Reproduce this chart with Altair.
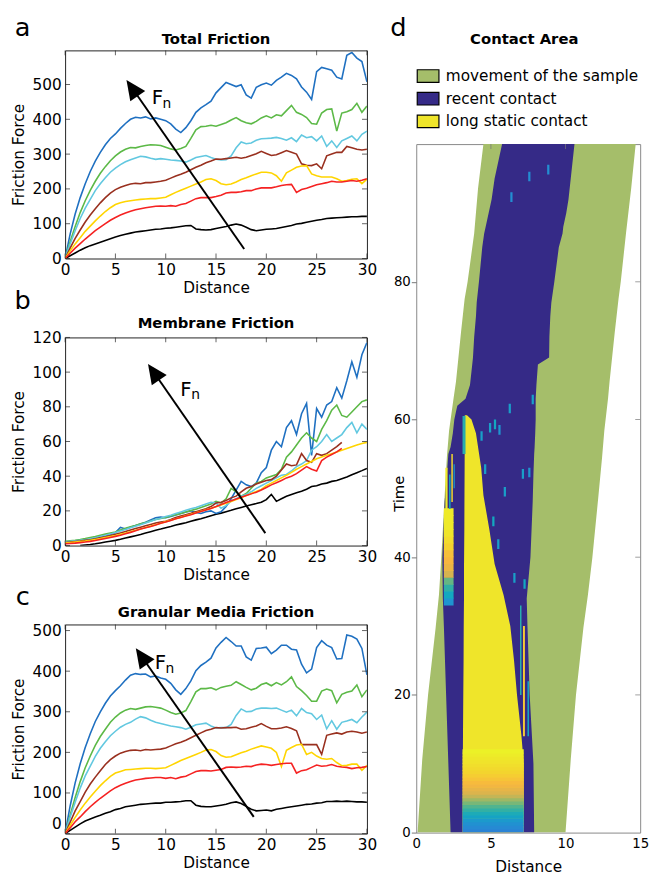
import math
import altair as alt
import pandas as pd

FONT = "DejaVu Sans"

# ---------------- data: friction curves ----------------
DIST = [0.0, 0.5, 1.0, 1.5, 2.0, 2.5, 3.0, 3.5, 4.0, 4.5,
        5.0, 5.5, 6.0, 6.5, 7.0, 7.5, 8.0, 8.5, 9.0, 9.5,
        10.0, 10.5, 11.0, 11.5, 12.0, 12.5, 13.0, 13.5, 14.0, 14.5,
        15.0, 15.5, 16.0, 16.5, 17.0, 17.5, 18.0, 18.5, 19.0, 19.5,
        20.0, 20.5, 21.0, 21.5, 22.0, 22.5, 23.0, 23.5, 24.0, 24.5,
        25.0, 25.5, 26.0, 26.5, 27.0, 27.5, 28.0, 28.5, 29.0, 29.5,
        30.0]

ORDER = ["black", "blue", "green", "cyan", "brown", "yellow", "red"]
COLORS = ["#000000", "#1f70c1", "#5cb947", "#62c8e0", "#99301f", "#ffd500", "#f52222"]

A_BLUE = [0, 70, 128, 175, 215, 250, 280, 305, 327, 345,
          358, 374, 388, 400, 406, 404, 407, 401, 404, 400,
          396, 387, 372, 362, 376, 396, 420, 433, 442, 452,
          476, 491, 506, 500, 494, 499, 470, 461, 492, 499,
          504, 498, 512, 521, 532, 526, 516, 493, 478, 457,
          537, 549, 545, 541, 521, 516, 584, 592, 576, 566,
          508]
A_GREEN = [0, 48, 92, 132, 166, 196, 222, 245, 264, 281,
           295, 306, 314, 319, 318, 322, 325, 327, 326, 325,
           320, 315, 312, 316, 322, 345, 370, 379, 380, 383,
           380, 385, 390, 398, 405, 396, 390, 387, 394, 404,
           410, 404, 413, 410, 425, 440, 420, 414, 405, 388,
           386, 418, 428, 430, 366, 418, 422, 428, 446, 420,
           438]
A_CYAN = [0, 42, 80, 115, 145, 170, 195, 215, 232, 248,
          260, 270, 278, 284, 289, 294, 292, 288, 285, 287,
          285, 283, 282, 280, 277, 283, 290, 293, 296, 290,
          285, 283, 284, 295, 318, 335, 330, 332, 340, 344,
          345, 346, 348, 345, 340, 347, 336, 355, 347, 350,
          338, 352, 322, 338, 319, 338, 345, 352, 338, 357,
          366]
A_BROWN = [0, 30, 58, 82, 105, 125, 143, 160, 175, 188,
           198, 205, 210, 214, 216, 215, 218, 218, 220, 222,
           225, 231, 237, 242, 248, 255, 262, 268, 275, 280,
           286, 285, 287, 289, 291, 288, 291, 296, 301, 308,
           302, 296, 298, 304, 310, 305, 300, 272, 268, 267,
           272, 258, 295, 300, 305, 305, 322, 318, 314, 312,
           314]
A_YELLOW = [0, 22, 42, 60, 78, 93, 108, 122, 135, 146,
            155, 160, 164, 166, 168, 170, 171, 172, 172, 174,
            176, 183, 190, 196, 202, 208, 214, 220, 227, 229,
            224, 215, 212, 214, 220, 227, 232, 238, 243, 248,
            248, 246, 238, 222, 246, 254, 262, 266, 267, 243,
            238, 234, 234, 234, 229, 222, 224, 228, 229, 215,
            228]
A_RED = [0, 15, 30, 43, 56, 68, 80, 90, 100, 110,
         118, 125, 131, 136, 140, 143, 146, 148, 150, 151,
         150, 152, 150, 155, 158, 165, 172, 175, 175, 175,
         178, 182, 188, 190, 190, 192, 195, 195, 200, 203,
         203, 203, 206, 210, 212, 213, 190, 198, 202, 207,
         212, 215, 218, 222, 220, 220, 222, 224, 222, 225,
         229]
A_BLACK = [0, 8, 16, 24, 31, 37, 42, 47, 52, 57,
           62, 66, 70, 73, 76, 78, 80, 82, 84, 85,
           87, 88, 90, 92, 94, 95, 85, 83, 82, 83,
           86, 89, 92, 96, 99, 96, 90, 83, 80, 82,
           84, 85, 86, 89, 92, 95, 99, 101, 104, 107,
           110, 112, 115, 116, 117, 118, 119, 120, 120, 121,
           121]

B_BLUE = [2.0, 2.2, 2.5, 2.9, 3.3, 3.8, 4.4, 5.0, 5.7, 6.4,
          7.5, 10.5, 9.5, 10.5, 11.5, 12.5, 13.5, 14.8, 16.0, 16.5,
          16.0, 16.8, 17.6, 18.5, 19.4, 20.0, 19.0, 18.5, 19.5, 20.0,
          18.5, 19.5, 22.5, 27.0, 32.0, 37.0, 35.0, 34.0, 36.0, 42.0,
          45.0, 55.0, 60.0, 57.0, 68.0, 72.0, 64.0, 76.0, 82.0, 52.0,
          79.0, 74.0, 81.0, 83.0, 91.0, 85.0, 95.0, 106.0, 97.0, 110.0,
          117.0]
B_GREEN = [2.5, 2.8, 3.1, 3.5, 4.0, 4.6, 5.2, 5.9, 6.6, 7.2,
           7.8, 9.0, 10.0, 10.8, 11.6, 12.5, 13.3, 14.2, 15.0, 15.6,
           16.2, 17.0, 17.8, 18.5, 19.3, 20.2, 21.0, 22.0, 23.0, 24.0,
           25.5, 24.5, 27.0, 33.0, 31.0, 28.5, 30.0, 33.0, 36.0, 37.0,
           39.0, 40.0, 41.0, 44.0, 51.0, 54.0, 58.0, 62.0, 65.0, 62.0,
           60.0, 67.0, 72.0, 78.0, 81.0, 75.0, 74.0, 77.0, 80.0, 83.0,
           84.0]
B_CYAN = [2.2, 2.4, 2.7, 3.0, 3.4, 3.9, 4.5, 5.2, 5.9, 6.7,
          7.5, 8.4, 9.3, 10.2, 11.1, 12.0, 13.0, 14.0, 15.0, 15.8,
          16.7, 17.5, 18.5, 19.4, 20.3, 21.2, 22.0, 23.0, 24.0, 25.0,
          24.5, 21.5, 23.0, 25.6, 27.0, 28.4, 29.5, 31.0, 33.0, 34.5,
          36.0, 37.5, 39.0, 40.5, 41.0, 43.0, 45.5, 47.0, 49.0, 55.0,
          57.0, 60.0, 64.0, 60.0, 62.0, 64.0, 68.0, 71.0, 65.0, 70.0,
          67.0]
B_BROWN = [1.8, 2.0, 2.3, 2.6, 3.0, 3.4, 3.9, 4.5, 5.1, 5.8,
           6.5, 7.3, 8.1, 9.0, 9.8, 10.6, 11.4, 12.2, 13.0, 13.5,
           14.0, 15.0, 16.2, 17.0, 17.8, 18.6, 19.5, 20.4, 21.2, 22.5,
           24.5, 25.0, 26.0, 27.5, 28.5, 31.0, 33.0, 34.0, 35.5, 36.5,
           37.5, 38.0, 40.0, 43.5, 47.0, 46.0, 46.5, 53.0, 49.0, 48.0,
           53.0, 52.0, 53.0, 55.0, 57.0, 59.5, None, None, None, None,
           None]
B_YELLOW = [1.5, 1.7, 2.0, 2.3, 2.6, 3.0, 3.5, 4.0, 4.6, 5.2,
            5.8, 6.5, 7.2, 8.0, 8.8, 9.6, 10.4, 11.2, 12.0, 12.9,
            13.8, 14.6, 15.5, 16.3, 17.2, 18.0, 18.9, 19.8, 20.6, 21.5,
            22.4, 23.4, 24.4, 25.4, 26.5, 27.6, 28.8, 30.0, 31.2, 32.4,
            34.5, 36.0, 37.5, 39.0, 40.5, 42.2, 44.0, 45.5, 47.0, 48.5,
            50.0, 51.0, 52.0, 53.0, 54.0, 55.0, 56.0, 57.0, 58.0, 58.8,
            59.5]
B_RED = [1.0, 1.2, 1.4, 1.7, 2.0, 2.4, 2.9, 3.5, 4.1, 4.7,
         5.3, 6.0, 6.8, 7.6, 8.5, 9.5, 10.3, 11.0, 11.8, 12.8,
         13.6, 14.4, 15.4, 16.2, 17.0, 17.8, 18.8, 19.6, 20.5, 21.4,
         22.5, 23.7, 24.8, 25.8, 26.8, 27.8, 28.8, 29.8, 30.8, 32.0,
         33.5, 35.0, 36.2, 37.5, 39.0, 40.0, 41.5, 43.5, 45.5, 44.0,
         43.0, 49.0, 51.0, 52.5, 54.0, 56.0, None, None, None, None,
         None]
B_BLACK = [None, None, None, 0.0, 0.3, 0.6, 1.0, 1.5, 2.0, 2.5,
           3.0, 3.6, 4.3, 5.0, 5.7, 6.4, 7.2, 8.0, 8.8, 9.5,
           10.3, 11.0, 11.8, 12.5, 13.2, 14.0, 14.8, 15.5, 16.3, 17.2,
           18.0, 18.7, 19.5, 20.3, 21.2, 22.0, 22.8, 23.5, 24.2, 25.0,
           26.5, 29.5, 25.5, 27.0, 28.4, 29.5, 30.5, 31.3, 32.5, 34.0,
           34.5, 35.5, 36.0, 37.0, 37.5, 38.5, 39.5, 40.8, 42.0, 43.2,
           44.5]

C_BLUE = [0, 68, 125, 172, 212, 246, 276, 300, 321, 339,
          352, 364, 378, 390, 394, 392, 393, 386, 388, 383,
          380, 370, 354, 343, 357, 376, 401, 414, 422, 432,
          457, 471, 483, 473, 462, 462, 435, 427, 456, 457,
          459, 443, 452, 464, 464, 454, 452, 417, 396, 405,
          458, 475, 464, 458, 430, 431, 489, 486, 479, 456,
          391]
C_GREEN = [0, 45, 89, 128, 162, 191, 217, 239, 257, 274,
           287, 297, 304, 308, 306, 309, 312, 313, 311, 309,
           304, 298, 294, 297, 303, 325, 349, 357, 357, 359,
           354, 360, 363, 365, 374, 367, 360, 354, 358, 367,
           371, 364, 372, 366, 374, 386, 362, 352, 340, 326,
           326, 351, 356, 352, 322, 343, 348, 351, 366, 337,
           354]
C_CYAN = [0, 40, 77, 112, 142, 166, 190, 210, 226, 241,
          252, 262, 269, 274, 282, 288, 285, 279, 274, 271,
          268, 265, 263, 261, 257, 262, 268, 270, 272, 265,
          260, 261, 261, 269, 291, 307, 300, 301, 307, 309,
          309, 308, 309, 304, 299, 304, 290, 308, 298, 295,
          281, 292, 258, 278, 257, 274, 277, 281, 273, 287,
          299]
C_BROWN = [0, 28, 56, 79, 102, 122, 139, 155, 170, 182,
           191, 198, 202, 205, 206, 204, 207, 206, 207, 208,
           211, 216, 221, 225, 230, 236, 242, 248, 254, 257,
           261, 260, 261, 261, 262, 257, 258, 262, 265, 271,
           264, 258, 258, 260, 263, 259, 253, 219, 219, 219,
           219, 195, 242, 245, 248, 245, 250, 252, 250, 247,
           250]
C_YELLOW = [0, 20, 40, 58, 75, 90, 104, 118, 130, 141,
            149, 153, 157, 158, 159, 160, 161, 161, 160, 161,
            162, 168, 174, 180, 185, 190, 195, 200, 206, 207,
            202, 192, 188, 189, 194, 199, 203, 208, 212, 216,
            213, 210, 200, 165, 205, 212, 218, 220, 195, 200,
            191, 185, 183, 185, 175, 167, 168, 171, 171, 156,
            168]
C_RED = [0, 14, 29, 41, 54, 66, 77, 87, 96, 105,
         113, 119, 124, 128, 132, 134, 136, 137, 138, 138,
         136, 138, 135, 139, 141, 147, 153, 155, 155, 154,
         156, 158, 163, 164, 163, 164, 166, 165, 169, 171,
         170, 168, 170, 172, 173, 173, 149, 155, 157, 163,
         169, 166, 167, 170, 166, 164, 163, 160, 162, 163,
         165]
C_BLACK = [0, 8, 16, 24, 31, 36, 41, 45, 50, 54,
           59, 62, 66, 68, 70, 72, 73, 74, 75, 75,
           77, 77, 78, 79, 81, 81, 70, 67, 66, 66,
           68, 70, 72, 76, 78, 74, 67, 60, 56, 57,
           58, 56, 60, 62, 64, 66, 68, 70, 72, 73,
           75, 76, 79, 79, 80, 79, 80, 79, 78, 78,
           77]

NAMES = ["blue", "green", "cyan", "brown", "yellow", "red", "black"]
A_SERIES = dict(zip(NAMES, [A_BLUE, A_GREEN, A_CYAN, A_BROWN, A_YELLOW, A_RED, A_BLACK]))
B_SERIES = dict(zip(NAMES, [B_BLUE, B_GREEN, B_CYAN, B_BROWN, B_YELLOW, B_RED, B_BLACK]))
C_SERIES = dict(zip(NAMES, [C_BLUE, C_GREEN, C_CYAN, C_BROWN, C_YELLOW, C_RED, C_BLACK]))

X_TICKS = [0, 5, 10, 15, 20, 25, 30]
A_YTICKS = [0, 100, 200, 300, 400, 500]
B_YTICKS = [0, 20, 40, 60, 80, 100, 120]
C_YTICKS = [0, 100, 200, 300, 400, 500]

# arrow annotation (data coordinates): tail, tip, F_n label position
A_ARROW = [(17.8, 27.5), (6.1, 513.0), (8.6, 445.0)]
B_ARROW = [(19.9, 7.2), (8.24, 104.7), (11.45, 86.5)]
C_ARROW = [(18.75, 41.3), (7.03, 456.6), (8.9, 406.0)]

# ---------------- data: contact area ----------------
CATS = ["movement of the sample", "recent contact", "long static contact"]
CAT_COLORS = ["#a5be6a", "#352a87", "#efe52a"]

GREEN_T = [0, 10.6, 20, 29.8, 34.5, 40, 48.8, 54.5, 58.4, 63.1, 65.5, 72.7, 77.5, 80, 87, 93.6, 100]
GREEN_L = [0.09, 0.4, 0.79, 1.3, 1.52, 1.68, 1.9, 2.05, 2.2, 2.5, 2.66, 3.0, 3.24, 3.44, 3.88, 4.14, 4.5]
GREEN_R = [10.0, 10.35, 10.7, 11.2, 11.5, 11.8, 12.2, 12.45, 12.6, 12.85, 12.95, 13.3, 13.55, 13.7, 14.05, 14.4, 14.7]

BLUE_T = [0, 10, 20, 30, 34, 40, 48, 52, 55, 56, 58, 60, 61, 62, 63, 65, 68, 69, 72, 75,
          77, 80, 85, 87, 88, 90, 92, 95, 100]
BLUE_L = [2.3, 2.15, 2.0, 1.85, 1.78, 1.75, 1.9, 2.05, 2.15, 2.3, 2.45, 2.55, 2.65, 2.75, 3.3, 3.6,
          3.75, 3.8, 3.88, 4.0, 4.05, 4.2, 4.42, 4.55, 4.65, 4.85, 5.05, 5.25, 5.75]
BLUE_R = [7.9, 7.85, 7.6, 7.45, 7.4, 7.65, 7.8, 7.85, 7.9, 7.93, 7.97, 8.0, 8.0, 8.0, 8.0, 8.05,
          8.15, 8.9, 8.92, 8.98, 9.05, 9.25, 9.55, 9.8, 9.85, 10.05, 10.2, 10.35, 10.6]

YEL_T = [0, 10, 14, 20, 25, 30, 34.5, 39, 44, 49, 53, 58, 60, 60.6]
YEL_L = [3.1, 3.12, 3.13, 3.15, 3.17, 3.18, 3.2, 3.2, 3.22, 3.23, 3.24, 3.25, 3.25, 3.25]
YEL_R = [7.2, 7.2, 7.05, 6.75, 6.55, 6.3, 5.85, 5.25, 4.9, 4.5, 4.35, 4.0, 3.7, 3.4]

# contact-age patches: left, right, t_start, t_end, age
PATCH_L = [3.1] * 24 + [1.85] * 14 + [1.95, 2.2, 2.35, 2.5, 3.1, 6.95, 7.15, 7.45]
PATCH_R = [7.2] * 24 + [2.5] * 14 + [2.1, 2.3, 2.45, 2.58, 3.3, 7.05, 7.28, 7.55]
PATCH_T0 = [0.0, 0.5, 1.0, 1.5, 2.0, 2.5, 3.0, 3.5, 4.0, 4.5, 5.0, 5.5,
            6.0, 6.5, 7.0, 7.5, 8.0, 8.5, 9.0, 9.5, 10.0, 10.5, 11.0, 11.5,
            33, 34, 35, 36, 37, 38, 39, 40, 41, 42, 43, 44, 45, 46,
            46, 47, 48, 50, 55, 20, 14, 14]
PATCH_T1 = [0.6, 1.1, 1.6, 2.1, 2.6, 3.1, 3.6, 4.1, 4.6, 5.1, 5.6, 6.1,
            6.6, 7.1, 7.6, 8.1, 8.6, 9.1, 9.6, 10.1, 10.6, 11.1, 11.6, 12.1,
            34.1, 35.1, 36.1, 37.1, 38.1, 39.1, 40.1, 41.1, 42.1, 43.1, 44.1, 45.1, 46.1, 47.1,
            53, 52, 55, 53.5, 60.5, 33, 30, 22]
PATCH_AGE = [0.25, 0.75, 1.25, 1.75, 2.25, 2.75, 3.25, 3.75, 4.25, 4.75, 5.25, 5.75,
             6.25, 6.75, 7.25, 7.75, 8.25, 8.75, 9.25, 9.75, 10.25, 10.75, 11.25, 11.75,
             1.5, 2.5, 3.2, 4.0, 5.5, 6.5, 7.0, 7.5, 8.5, 9.5, 10.5, 11, 11, 11,
             11, 2.5, 9, 2, 3, 3, 8, 2.5]

BITS_X = [4.87, 5.2, 4.3, 5.5, 4.54, 5.09, 5.86, 7.07, 7.5, 7.73, 7.18, 6.19, 6.5, 5.42, 6.3, 7.5, 8.77]
BITS_T = [58.1, 58.6, 56.9, 57.8, 52.1, 44.5, 48.8, 51.4, 51.6, 62.2, 35.4, 60.9, 36.3, 41.2, 91.6, 94.6, 95.6]
BITS_AGE = [2, 2.5, 2, 1.5, 2, 2.5, 2, 2, 1.5, 2, 2.5, 2, 2, 2, 1, 1, 1]

PARULA_AGE = [0, 1.5, 2.5, 3.5, 4.5, 5.5, 7, 8.5, 10.5]
PARULA_COL = ["#2c7fd6", "#1f95d0", "#13a8c0", "#3cb29a", "#8bb96c", "#d7b34f", "#f7b63f", "#f4d22f", "#efe52a"]

# ---------------- layout constants ----------------
W = 306
HEIGHTS = [211, 211, 212]
D_W, D_H = 227, 698
D_DROP = 95          # contact-area plot starts this much lower than panel a
TICK = "#222222"


def text_layer(txt, x, y, size, weight="normal", align="center"):
    return alt.Chart(pd.DataFrame({"t": [txt]})).mark_text(
        align=align, baseline="alphabetic", fontSize=size, font=FONT, fontWeight=weight,
        color="black").encode(x=alt.value(x), y=alt.value(y), text="t:N")


def friction_panel(title, title_y, series, ymax, yticks, arrow, height, letter, letter_y, zero_shift=0):
    rows = []
    for name in ORDER:
        for x, v in zip(DIST, series[name]):
            if v is not None:
                rows.append({"d": x, "f": v, "s": name})
    df = pd.DataFrame(rows)
    xsc = alt.Scale(domain=[0, 30], nice=False, zero=False)
    ysc = alt.Scale(domain=[0, ymax], nice=False, zero=False)
    ylab_off = {"condition": {"test": "datum.value === 0", "value": zero_shift}, "value": 0}
    xax = alt.Axis(values=X_TICKS, title="Distance", ticks=False, domain=False, grid=False,
                   labelPadding=4, titlePadding=3, labelFontSize=15.5, titleFontSize=15.5,
                   labelFlush=False)
    yax = alt.Axis(values=yticks, title="Friction Force", ticks=False, domain=False, grid=False,
                   labelPadding=4, labelFontSize=15.5, titleFontSize=15.5,
                   titleX=-47, titleY=height / 2.0, titleAngle=270, titleBaseline="middle",
                   titleAlign="center", labelFlush=False, labelOffset=ylab_off)
    X = lambda f: alt.X(f, scale=xsc, axis=xax)
    Y = lambda f: alt.Y(f, scale=ysc, axis=yax)
    lines = alt.Chart(df).mark_line(strokeWidth=1.6, clip=True).encode(
        x=X("d:Q"), y=Y("f:Q"),
        color=alt.Color("s:N", scale=alt.Scale(domain=ORDER, range=COLORS), legend=None),
    )
    # inward ticks on all four sides
    xt = pd.DataFrame({"d": X_TICKS})
    yt = pd.DataFrame({"f": yticks})
    tb = alt.Chart(xt).mark_tick(orient="vertical", size=5, thickness=1, color=TICK).encode(
        x=X("d:Q"), y=alt.value(height - 2.5))
    tt = alt.Chart(xt).mark_tick(orient="vertical", size=5, thickness=1, color=TICK).encode(
        x=X("d:Q"), y=alt.value(2.5))
    tl = alt.Chart(yt).mark_tick(orient="horizontal", size=5, thickness=1, color=TICK).encode(
        y=Y("f:Q"), x=alt.value(2.5))
    tr = alt.Chart(yt).mark_tick(orient="horizontal", size=5, thickness=1, color=TICK).encode(
        y=Y("f:Q"), x=alt.value(W - 2.5))

    tail, tip, flab = arrow
    sx, sy = W / 30.0, height / float(ymax)
    dxp = (tip[0] - tail[0]) * sx
    dyp = (tip[1] - tail[1]) * sy
    length = math.hypot(dxp, dyp)
    frac = 14.0 / length
    base = (tip[0] + frac * (tail[0] - tip[0]), tip[1] + frac * (tail[1] - tip[1]))
    angle = math.degrees(math.atan2(dxp, dyp)) % 360
    arrow_df = pd.DataFrame({"d": [tail[0], base[0]], "f": [tail[1], base[1]]})
    shaft = alt.Chart(arrow_df).mark_line(color="black", strokeWidth=2, strokeCap="butt").encode(
        x=X("d:Q"), y=Y("f:Q"))
    head = alt.Chart(pd.DataFrame({"d": [tip[0]], "f": [tip[1]]})).mark_point(
        shape="M0,0L0.46,1L-0.46,1Z", filled=True, size=1600, angle=angle,
        color="black", opacity=1, strokeWidth=0).encode(x=X("d:Q"), y=Y("f:Q"))
    fdf = pd.DataFrame({"d": [flab[0]], "f": [flab[1]], "t": ["F"], "u": ["n"]})
    ftxt = alt.Chart(fdf).mark_text(align="left", baseline="alphabetic", fontSize=20,
                                    font=FONT, color="black").encode(
        x=X("d:Q"), y=Y("f:Q"), text="t:N")
    ntxt = alt.Chart(fdf).mark_text(align="left", baseline="alphabetic", fontSize=14,
                                    font=FONT, color="black", dx=11, dy=4).encode(
        x=X("d:Q"), y=Y("f:Q"), text="u:N")
    let = text_layer(letter, -43, letter_y, 26)
    ttl = text_layer(title, W / 2.0, title_y, 15, weight="bold")
    return alt.layer(lines, tb, tt, tl, tr, shaft, head, ftxt, ntxt, let, ttl).properties(
        width=W, height=height)


pa = friction_panel("Total Friction", -6, A_SERIES, 598, A_YTICKS, A_ARROW, HEIGHTS[0], "a", -15)
pb = friction_panel("Membrane Friction", -10, B_SERIES, 120, B_YTICKS, B_ARROW, HEIGHTS[1], "b", -29)
pc = friction_panel("Granular Media Friction", -8, C_SERIES, 515, C_YTICKS, C_ARROW, HEIGHTS[2], "c", -20,
                    zero_shift=-10)

# ---------------- contact area panel ----------------
dxs = alt.Scale(domain=[0, 15], nice=False, zero=False)
dys = alt.Scale(domain=[0, 100], nice=False, zero=False)
d_xax = alt.Axis(values=[0, 5, 10, 15], title="Distance", grid=False, domain=False, ticks=False,
                 labelPadding=4, labelFontSize=13.5, titleFontSize=15.5, titlePadding=10,
                 labelFlush=False)
d_yax = alt.Axis(values=[0, 20, 40, 60, 80], title="Time", grid=False, domain=False, ticks=True,
                 tickSize=5, tickColor="#777", labelPadding=1, labelFontSize=13.5, titleFontSize=15,
                 titleX=-18, titleY=354, titleAngle=270, titleBaseline="middle", titleAlign="center",
                 labelFlush=False)
DX = lambda f: alt.X(f, scale=dxs, axis=d_xax)
DY = lambda f: alt.Y(f, scale=dys, axis=d_yax)

band_rows = []
for T, L, R, cat in [(GREEN_T, GREEN_L, GREEN_R, CATS[0]),
                     (BLUE_T, BLUE_L, BLUE_R, CATS[1]),
                     (YEL_T, YEL_L, YEL_R, CATS[2])]:
    for t, l, r in zip(T, L, R):
        band_rows.append({"t": t, "l": l, "r": r, "cat": cat})
band_df = pd.DataFrame(band_rows)

# the legend is hoisted to the right column, whose origin is level with panel a's plot top
legend = alt.Legend(title=None, orient="none", legendX=0, legendY=D_DROP - 81, direction="vertical",
                    symbolType="M-1,-0.58H1V0.58H-1Z", symbolSize=484, symbolStrokeColor="black",
                    symbolStrokeWidth=1.2, symbolOpacity=1, labelFontSize=15.5, labelFont=FONT,
                    labelColor="black", labelOffset=6, rowPadding=2, padding=0, labelLimit=400)

bands = alt.Chart(band_df).mark_area(orient="horizontal", clip=True, opacity=1).encode(
    y=DY("t:Q"), x=DX("l:Q"), x2="r:Q",
    color=alt.Color("cat:N", scale=alt.Scale(domain=CATS, range=CAT_COLORS), legend=legend),
)

patch_df = pd.DataFrame({"l": PATCH_L + BITS_X,
                         "r": PATCH_R + [x + 0.15 for x in BITS_X],
                         "t": PATCH_T0 + BITS_T,
                         "t1": PATCH_T1 + [t + 1.4 for t in BITS_T],
                         "age": PATCH_AGE + BITS_AGE})
patches = alt.Chart(patch_df).mark_rect(clip=True, strokeWidth=0).encode(
    x=DX("l:Q"), x2="r:Q", y=DY("t:Q"), y2="t1:Q",
    fill=alt.Fill("age:Q", scale=alt.Scale(domain=PARULA_AGE, range=PARULA_COL, interpolate="rgb"),
                  legend=None),
)
dtop = alt.Chart(pd.DataFrame({"l": [5, 10]})).mark_tick(orient="vertical", size=5, thickness=1,
                                                         color="#777").encode(
    x=DX("l:Q"), y=alt.value(2.5))
dright = alt.Chart(pd.DataFrame({"t": [20, 40, 60, 80]})).mark_tick(orient="horizontal", size=5,
                                                                    thickness=1, color="#777").encode(
    y=DY("t:Q"), x=alt.value(D_W - 2.5))
dlet = text_layer("d", -18, -110, 26)
dttl = text_layer("Contact Area", D_W / 2.0 - 4, -101, 15, weight="bold")

pdd = alt.layer(bands, patches, dtop, dright, dlet, dttl).properties(
    width=D_W, height=D_H,
    view=alt.ViewBackground(stroke="#888888", strokeWidth=1))

# invisible spacer so that the contact-area plot starts lower than panel a
spacer = alt.Chart(pd.DataFrame({"v": [0]})).mark_point(opacity=0).encode(
    x=alt.value(0), y=alt.value(0)).properties(
    width=D_W, height=1, view=alt.ViewBackground(stroke="transparent"))

left = alt.vconcat(pa, pb, pc, spacing=80, bounds="flush")
right = alt.vconcat(spacer, pdd, spacing=D_DROP - 1, bounds="flush")
chart = alt.hconcat(left, right, spacing=12).resolve_scale(color="independent").properties(
    padding={"left": 11, "top": 8, "right": 2, "bottom": 0}, background="white")
chart = chart.configure(font=FONT).configure_view(stroke="#222222", strokeWidth=1).configure_axis(
    labelFont=FONT, titleFont=FONT, labelColor="black", titleColor="black", titleFontWeight="normal")

chart.save("out.html", embed_options={"renderer": "svg", "actions": False})
